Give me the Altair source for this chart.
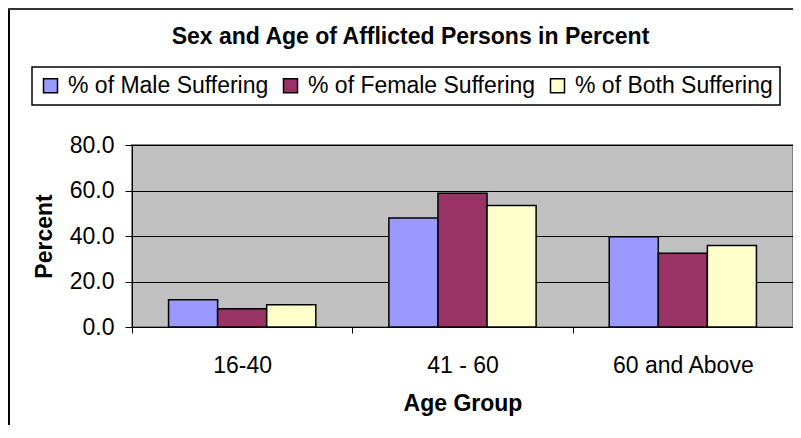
import altair as alt
import pandas as pd

groups = ["16-40", "41 - 60", "60 and Above"]
series = ["% of Male Suffering", "% of Female Suffering", "% of Both Suffering"]
male = [12.0, 47.9, 39.7]
female = [8.0, 58.8, 32.4]
both = [9.8, 53.4, 35.8]
colors = ["#9999FF", "#993366", "#FFFFCC"]
y_ticks = [0, 20, 40, 60, 80]

rows = []
for s, vals in zip(series, [male, female, both]):
    for g, v in zip(groups, vals):
        rows.append({"group": g, "series": s, "value": v})
df = pd.DataFrame(rows)

FONT = "Liberation Sans"
FS = 23

bars = alt.Chart(df).mark_bar(stroke="black", strokeWidth=1.5).encode(
    x=alt.X(
        "group:N", sort=groups,
        scale=alt.Scale(paddingInner=0, paddingOuter=0),
        axis=alt.Axis(
            title="Age Group", labelAngle=0, tickBand="extent", tickSize=6,
            tickColor="black", domainColor="black", labelPadding=21,
            labelFontSize=FS, titleFontSize=FS, titleFontWeight="bold",
            titleY=83, titleBaseline="alphabetic",
            labelColor="black", titleColor="black",
        ),
    ),
    xOffset=alt.XOffset(
        "series:N", sort=series,
        scale=alt.Scale(paddingInner=0, paddingOuter=0.745),
    ),
    y=alt.Y(
        "value:Q",
        scale=alt.Scale(domain=[0, 80]),
        axis=alt.Axis(
            values=y_ticks, format=".1f", title="Percent", grid=True,
            gridColor="black", gridWidth=1, gridOpacity=1,
            tickSize=7, tickColor="black", domainColor="black",
            labelPadding=11, labelFontSize=FS, labelColor="black",
            titleFontSize=FS, titleFontWeight="bold", titleColor="black",
            titleAngle=270, titleX=-88, titleY=91,
            titleAlign="center", titleBaseline="middle",
        ),
    ),
    color=alt.Color(
        "series:N", sort=series,
        scale=alt.Scale(domain=series, range=colors),
        legend=alt.Legend(
            title=None, orient="none", legendX=-100, legendY=-78,
            direction="horizontal", columns=3,
            labelFontSize=FS, labelColor="black", labelLimit=400,
            symbolType="square", symbolSize=196,
            symbolStrokeColor="black", symbolStrokeWidth=1.5,
            labelOffset=6, columnPadding=10, padding=7,
            strokeColor="black", fillColor="white",
        ),
    ),
)

one = pd.DataFrame({"k": [0]})
border_left = alt.Chart(one).mark_rule(color="black", strokeWidth=2).encode(
    x=alt.value(-123), y=alt.value(-136), y2=alt.value(281)
)
border_top = alt.Chart(one).mark_rule(color="#333333", strokeWidth=2).encode(
    x=alt.value(-124), x2=alt.value(661), y=alt.value(-136)
)

chart = alt.layer(bars, border_left, border_top).properties(
    width=661,
    height=182,
    autosize="none",
    padding={"left": 124, "top": 137, "right": 0, "bottom": 98},
    title=alt.TitleParams(
        "Sex and Age of Afflicted Persons in Percent",
        fontSize=FS, fontWeight="bold", anchor="middle", dx=-52, offset=-41,
        color="black",
    ),
).configure(font=FONT).configure_view(
    fill="#C0C0C0", stroke="#808080", strokeWidth=2
).configure_legend(strokeWidth=1.5)

chart.save("out.html", embed_options={"renderer": "svg", "actions": False})
